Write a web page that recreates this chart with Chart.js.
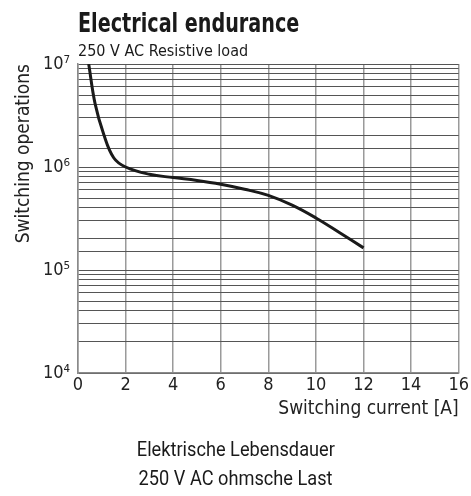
<!DOCTYPE html>
<html>
<head>
<meta charset="utf-8">
<script src="https://cdn.jsdelivr.net/npm/chart.js@4/dist/chart.umd.min.js"></script>
<style>
  html, body { margin: 0; padding: 0; background: #fff; }
  body { width: 471px; height: 496px; position: relative; overflow: hidden; }
  #wrap { position: absolute; left: 0; top: 0; width: 471px; height: 496px; }
  .txt { position: absolute; white-space: nowrap; line-height: 1; color: #1a1a1a; }
  #title { left: 78px; top: 8px; font: bold 26px "Liberation Sans Narrow", "DejaVu Sans Condensed", sans-serif; transform: scaleX(0.82); transform-origin: left center; }
  #subtitle { left: 78px; top: 41px; font: 16px "Liberation Sans Narrow", "DejaVu Sans Condensed", sans-serif; }
  .de { left: 0; width: 471px; text-align: center; font: 20px Roboto, "Liberation Sans", sans-serif; }
  .de span { display: inline-block; transform: scaleX(0.91); transform-origin: center; }
  #de1 { top: 437px; }
  #de2 { top: 466px; }
</style>
</head>
<body>
<div id="wrap"><canvas id="chart" width="471" height="496"></canvas></div>
<div class="txt" id="title">Electrical endurance</div>
<div class="txt" id="subtitle">250 V AC Resistive load</div>
<div class="txt de" id="de1"><span>Elektrische Lebensdauer</span></div>
<div class="txt de" id="de2"><span>250 V AC ohmsche Last</span></div>
<script>
// Kurve
const strom = [0.45, 0.72, 1.08, 1.5, 2.0, 3, 4, 5, 6, 7, 8, 9, 10, 11, 12];
const schaltspiele = [1e7, 4.1e6, 2.08e6, 1.23e6, 1.0e6, 8.5e5, 7.9e5, 7.4e5, 6.8e5, 6.08e5, 5.3e5, 4.26e5, 3.2e5, 2.3e5, 1.64e5];

const xTicks = [0, 2, 4, 6, 8, 10, 12, 14, 16];
const yMin = 1e4;
const yMax = 1e7;
const hochzahl = { 4: '⁴', 5: '⁵', 6: '⁶', 7: '⁷' };

const schmal = '"Liberation Sans Narrow", "DejaVu Sans Condensed", sans-serif';

const ctx = document.getElementById('chart').getContext('2d');
new Chart(ctx, {
    type: 'line',
    data: {
        datasets: [{
            data: strom.map((x, i) => ({ x: x, y: schaltspiele[i] })),
            borderColor: '#1a1a1a',
            borderWidth: 3,
            pointRadius: 0,
            tension: 0.4,
            fill: false
        }]
    },
    options: {
        responsive: false,
        animation: false,
        layout: { padding: { top: 64, right: 9, bottom: 73, left: 0 } },
        plugins: { legend: { display: false }, tooltip: { enabled: false } },
        scales: {
            x: {
                type: 'linear',
                min: xTicks[0],
                max: xTicks[xTicks.length - 1],
                afterBuildTicks: function(scale) {
                    scale.ticks = xTicks.map(v => ({ value: v }));
                },
                afterFit: function(scale) { scale.height = 50; },
                grid: { color: '#9a9a9a', lineWidth: 1.5, drawTicks: false },
                border: { color: '#8a8a8a', width: 1.5 },
                ticks: {
                    padding: 2,
                    color: '#222',
                    font: { family: schmal, size: 18 },
                    maxRotation: 0
                },
                title: {
                    display: true,
                    text: 'Switching current [A]',
                    align: 'end',
                    color: '#222',
                    font: { family: schmal, size: 19 },
                    padding: { top: 0, bottom: 3 }
                }
            },
            y: {
                type: 'logarithmic',
                min: yMin,
                max: yMax,
                afterFit: function(scale) { scale.width = 78; },
                grid: { color: '#555', lineWidth: 1, drawTicks: false },
                border: { color: '#8a8a8a', width: 1.5 },
                ticks: {
                    autoSkip: false,
                    padding: 8,
                    color: '#222',
                    font: { family: schmal, size: 18 },
                    callback: function(value) {
                        const e = Math.log10(value);
                        if (Math.abs(e - Math.round(e)) < 1e-9) {
                            return '10' + hochzahl[Math.round(e)];
                        }
                        return '';
                    }
                },
                title: {
                    display: true,
                    text: 'Switching operations',
                    align: 'end',
                    color: '#222',
                    font: { family: schmal, size: 19 },
                    padding: { top: 13, bottom: 0 }
                }
            }
        }
    }
});
</script>
</body>
</html>
